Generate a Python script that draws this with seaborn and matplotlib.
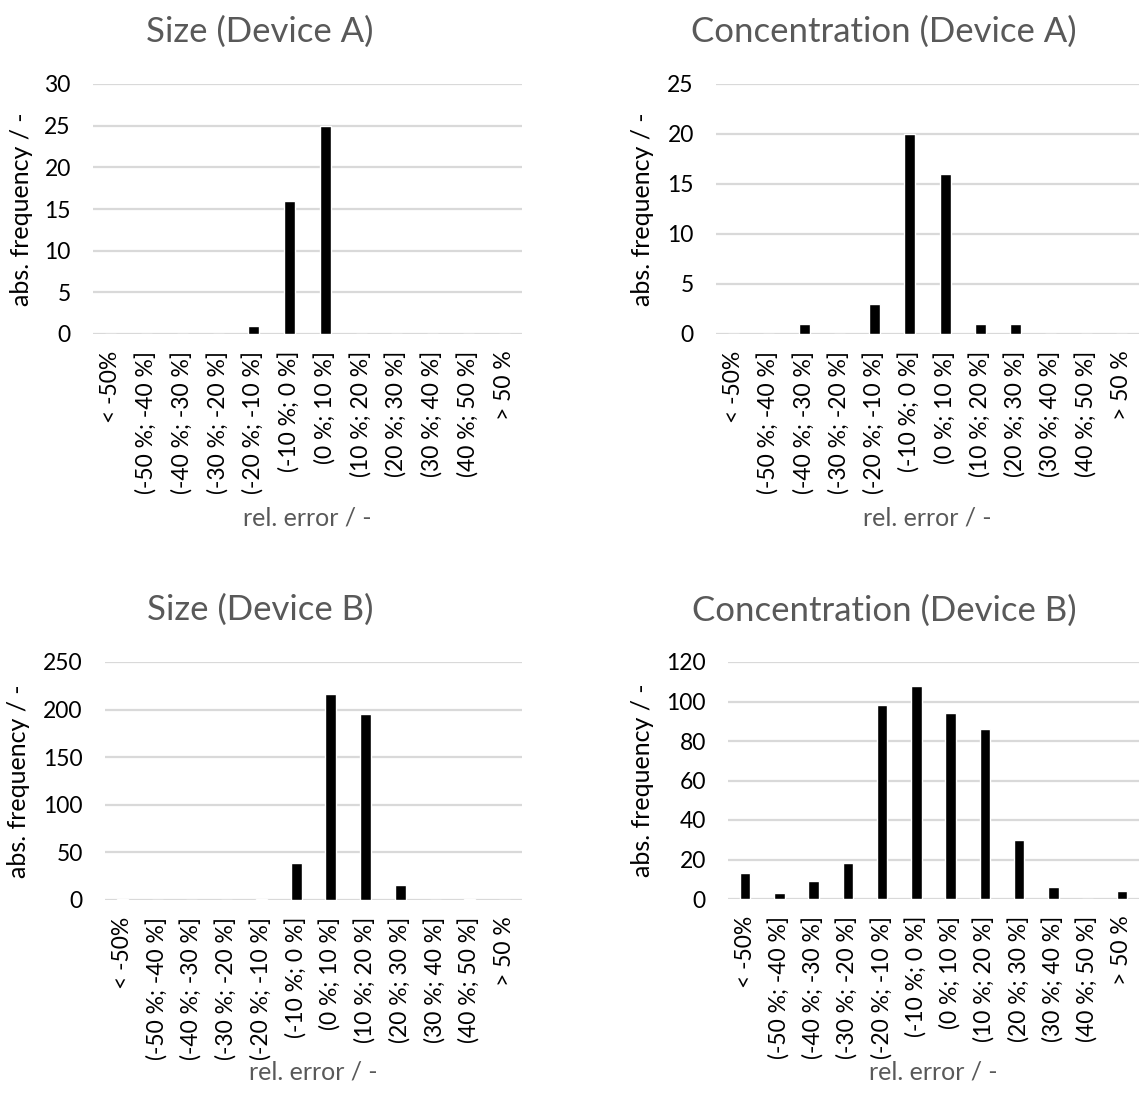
import matplotlib
matplotlib.use("Agg")
import matplotlib.pyplot as plt
import seaborn as sns

# bins of the relative error
categories = ["< -50%", "(-50 %; -40 %]", "(-40 %; -30 %]", "(-30 %; -20 %]",
              "(-20 %; -10 %]", "(-10 %; 0 %]", "(0 %; 10 %]", "(10 %; 20 %]",
              "(20 %; 30 %]", "(30 %; 40 %]", "(40 %; 50 %]", "> 50 %"]

size_a = [0, 0, 0, 0, 1, 16, 25, 0, 0, 0, 0, 0]
conc_a = [0, 0, 1, 0, 3, 20, 16, 1, 1, 0, 0, 0]
size_b = [1, 0, 0, 0, 1, 39, 216, 195, 16, 0, 1, 0]
conc_b = [13, 3, 9, 18, 98, 108, 94, 86, 30, 6, 0, 4]

titles = ["Size (Device A)", "Concentration (Device A)",
          "Size (Device B)", "Concentration (Device B)"]
y_ticks = [range(0, 31, 5), range(0, 26, 5), range(0, 251, 50), range(0, 121, 20)]

W, H = 1139, 1111
sns.set_style("white")
plt.rcParams["font.family"] = ["Lato", "DejaVu Sans"]

fig = plt.figure(figsize=(W / 100, H / 100), dpi=100)

# plot areas in pixels: left, right, top, bottom
boxes = [(93, 522, 84, 334), (716, 1139, 84, 334),
         (105, 522, 662, 900), (728, 1139, 662, 899)]
# title centre, x-label y, y-label x (pixels)
title_y = [32, 32, 610, 611]
title_x = [260, 884, 260, 884]
xlab_y = [518, 518, 1072, 1072]
ylab_x = [22, 643, 19, 643]

GRAY = "#595959"
GRID = "#d9d9d9"

for i, values in enumerate([size_a, conc_a, size_b, conc_b]):
    l, r, t, b = boxes[i]
    ax = fig.add_axes([l / W, 1 - b / H, (r - l) / W, (b - t) / H])
    sns.barplot(x=categories, y=values, color="black", saturation=1,
                width=0.31, ax=ax)
    ax.set_xlim(-0.5, len(categories) - 0.5)
    ticks = list(y_ticks[i])
    ax.set_ylim(0, ticks[-1])
    ax.set_yticks(ticks)
    ax.yaxis.grid(True, color=GRID, lw=1.6)
    ax.set_axisbelow(True)
    for s in ["top", "right", "left", "bottom"]:
        ax.spines[s].set_visible(False)
    ax.tick_params(axis="both", length=0, labelsize=16.5, colors="black")
    ax.tick_params(axis="y", pad=16)
    ax.tick_params(axis="x", pad=12)
    ax.set_xticks(range(len(categories)))
    ax.set_xticklabels(categories, rotation=90, va="top", ha="center")

    def to_ax(px, py):
        return (px - l) / (r - l), (b - py) / (b - t)

    tx, ty = to_ax(title_x[i], title_y[i])
    ax.text(tx, ty, titles[i], transform=ax.transAxes, ha="center",
            va="center", fontsize=25, color=GRAY)
    ax.set_xlabel("rel. error / -", fontsize=18, color=GRAY)
    ax.xaxis.set_label_coords(0.5, to_ax(0, xlab_y[i])[1])
    ax.xaxis.label.set_va("center")
    ax.set_ylabel("abs. frequency / -", fontsize=18, color="black")
    ax.yaxis.set_label_coords(to_ax(ylab_x[i], 0)[0], 0.5)
    ax.yaxis.label.set_va("center")

fig.savefig("out.png", dpi=100)
